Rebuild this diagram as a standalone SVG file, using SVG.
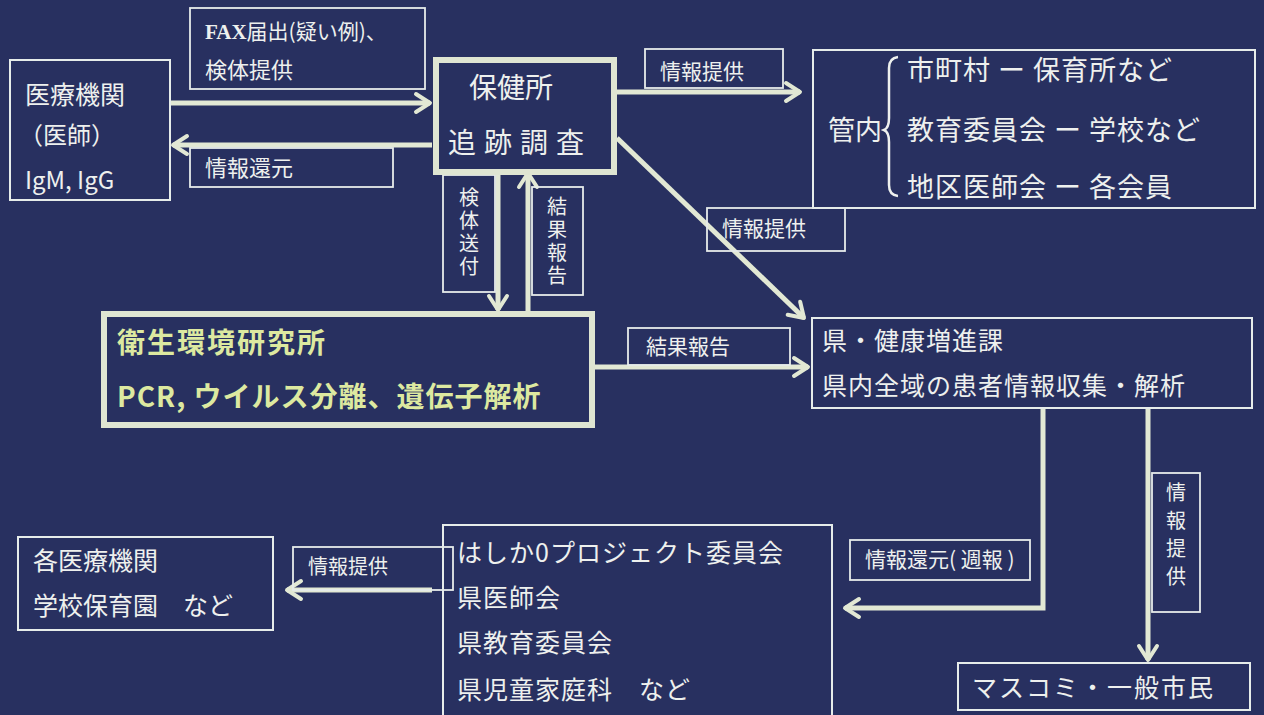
<svg xmlns="http://www.w3.org/2000/svg" width="1264" height="715" viewBox="0 0 1264 715">
<defs>
<style>
.t{font-family:"Noto Sans CJK JP","Noto Sans",sans-serif;fill:#eef0ee}
.v{writing-mode:tb;glyph-orientation-vertical:0}
.box{fill:none;stroke:#e6ecea;stroke-width:2}
.lab{fill:none;stroke:#e6ecea;stroke-width:1.8}
.thick{fill:none;stroke:#dfe5d2;stroke-width:6}
.arr{fill:none;stroke:#e2e8d4;stroke-width:5;marker-end:url(#ah)}
.yl{fill:#dde9a0;font-weight:bold}
</style>
<marker id="ah" viewBox="0 0 20 24" refX="17" refY="12" markerWidth="20" markerHeight="24" markerUnits="userSpaceOnUse" orient="auto">
<path d="M3,3 L17,12 L3,21" fill="none" stroke="#e2e8d4" stroke-width="4" stroke-linecap="round" stroke-linejoin="round"/>
</marker>
</defs>
<rect x="0" y="0" width="1264" height="715" fill="#283060"/>

<g id="connectors">
<line class="arr" x1="170" y1="103" x2="430" y2="103"/>
<line class="arr" x1="432" y1="145" x2="173" y2="145"/>
<line class="arr" x1="617" y1="92" x2="800" y2="92"/>
<line class="arr" x1="617" y1="138" x2="804" y2="318"/>
<line class="arr" x1="498" y1="175" x2="498" y2="310"/>
<line class="arr" x1="528" y1="312" x2="528" y2="173"/>
<line class="arr" x1="594" y1="367" x2="808" y2="367"/>
<polyline class="arr" points="1043,408 1043,608 845,608"/>
<line class="arr" x1="1148" y1="408" x2="1148" y2="660"/>
<line class="arr" x1="432" y1="590" x2="287" y2="590"/>
</g>

<g id="label-fax">
<rect class="lab" x="190" y="8" width="235" height="81"/>
<text class="t" font-size="21" x="205" y="39"><tspan font-family="Liberation Serif" font-weight="bold">FAX</tspan>届出(疑い例)、</text>
<text class="t" font-size="22" x="205" y="78">検体提供</text>
</g>
<g id="label-kangen1">
<rect class="lab" x="190" y="148" width="203" height="39"/>
<text class="t" font-size="22" x="205" y="176">情報還元</text>
</g>
<g id="label-teikyo1">
<rect class="lab" x="645" y="49" width="138" height="39"/>
<text class="t" font-size="21" x="660" y="79">情報提供</text>
</g>
<g id="label-teikyo2">
<rect class="lab" x="707" y="208" width="138" height="43"/>
<text class="t" font-size="21" x="722" y="236">情報提供</text>
</g>
<g id="label-kentai">
<rect class="lab" x="443" y="175" width="52" height="117"/>
<text class="t v" font-size="20" letter-spacing="3" x="469" y="187">検体送付</text>
</g>
<g id="label-kekka1">
<rect class="lab" x="532" y="187" width="51" height="108"/>
<text class="t v" font-size="20" letter-spacing="3" x="557" y="196">結果報告</text>
</g>
<g id="label-kekka2">
<rect class="lab" x="628" y="328" width="162" height="37"/>
<text class="t" font-size="21" x="646" y="354">結果報告</text>
</g>
<g id="label-shuho">
<rect class="lab" x="850" y="540" width="180" height="40"/>
<text class="t" font-size="21" x="865" y="567">情報還元( 週報 )</text>
</g>
<g id="label-teikyo3">
<rect class="lab" x="1152" y="473" width="48" height="139"/>
<text class="t v" font-size="20" letter-spacing="8" x="1176" y="482">情報提供</text>
</g>
<g id="label-teikyo4">
<rect class="lab" x="293" y="547" width="160" height="43"/>
<text class="t" font-size="20" x="308" y="574">情報提供</text>
</g>

<g id="node-iryo">
<rect class="box" x="10" y="60" width="160" height="140"/>
<text class="t" font-size="25" x="25" y="104">医療機関</text>
<text class="t" font-size="24" x="19" y="144">（医師）</text>
<text class="t" font-size="24" x="25" y="189">IgM, IgG</text>
</g>
<g id="node-hokenjo">
<rect class="thick" x="436" y="60" width="178" height="112"/>
<text class="t" font-size="28" x="469" y="98">保健所</text>
<text class="t" font-size="28" x="448" y="153" letter-spacing="8">追跡調査</text>
</g>
<g id="node-kannai">
<rect class="box" x="813" y="50" width="442" height="158"/>
<text class="t" font-size="27" x="828" y="140">管内</text>
<path d="M898,57 Q889,58 889,68 L889,118 Q889,128 884,130 Q889,132 889,142 L889,185 Q889,195 898,196" fill="none" stroke="#eef0ee" stroke-width="2.5"/>
<text class="t" font-size="27" letter-spacing="1" x="907" y="80">市町村 ー 保育所など</text>
<text class="t" font-size="27" letter-spacing="1" x="907" y="140">教育委員会 ー 学校など</text>
<text class="t" font-size="27" letter-spacing="1" x="907" y="197">地区医師会 ー 各会員</text>
</g>
<g id="node-eisei">
<rect class="thick" x="104" y="314" width="488" height="111" stroke-width="4"/>
<text class="t yl" font-size="28" letter-spacing="2" x="117" y="353">衛生環境研究所</text>
<text class="t yl" font-size="28" letter-spacing="1" x="117" y="407">PCR,  ウイルス分離、遺伝子解析</text>
</g>
<g id="node-ken">
<rect class="box" x="812" y="318" width="440" height="90"/>
<text class="t" font-size="25" letter-spacing="1" x="822" y="350">県・健康増進課</text>
<text class="t" font-size="25" letter-spacing="1" x="822" y="395">県内全域の患者情報収集・解析</text>
</g>
<g id="node-hashika">
<rect class="box" x="443" y="525" width="389" height="200"/>
<text class="t" font-size="25" letter-spacing="1" x="457" y="562">はしか0プロジェクト委員会</text>
<text class="t" font-size="25" letter-spacing="1" x="457" y="607">県医師会</text>
<text class="t" font-size="25" letter-spacing="1" x="457" y="652">県教育委員会</text>
<text class="t" font-size="25" letter-spacing="1" x="457" y="699">県児童家庭科　など</text>
</g>
<g id="node-kaku">
<rect class="box" x="18" y="537" width="255" height="93"/>
<text class="t" font-size="25" x="33" y="570">各医療機関</text>
<text class="t" font-size="25" x="33" y="615">学校保育園　など</text>
</g>
<g id="node-masukomi">
<rect class="box" x="958" y="663" width="292" height="47"/>
<text class="t" font-size="25" letter-spacing="2" x="972" y="697">マスコミ・一般市民</text>
</g>
</svg>
